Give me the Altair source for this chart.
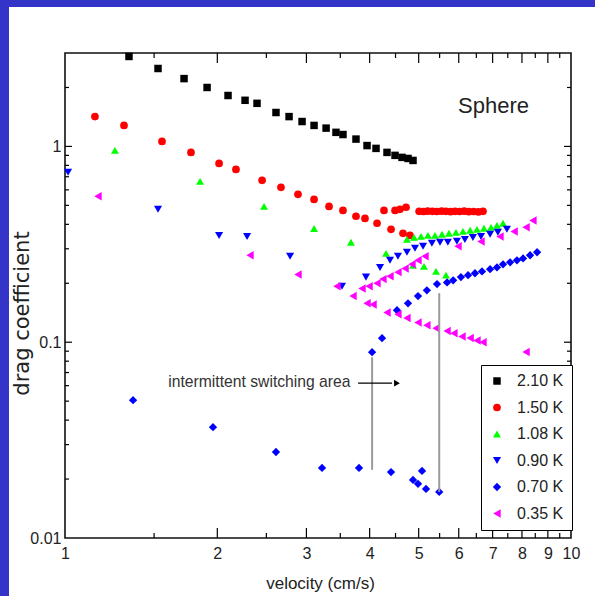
import altair as alt
import pandas as pd

# ---- series -------------------------------------------------------------
SERIES = ["2.10 K", "1.50 K", "1.08 K", "0.90 K", "0.70 K", "0.35 K"]
COLORS = ["#000000", "#ff0000", "#00ff00", "#0000ff", "#0000ff", "#ff00ff"]
SHAPES = ["square", "circle", "triangle-up", "triangle-down", "diamond", "triangle-left"]
SIZES = [56, 72, 95, 95, 85, 95]

v_210 = [1.338, 1.527, 1.719, 1.909, 2.100, 2.269, 2.396, 2.612, 2.772, 2.941, 3.106,
         3.281, 3.432, 3.543, 3.759, 3.953, 4.118, 4.329, 4.490, 4.635, 4.763, 4.873]
cd_210 = [2.88, 2.50, 2.22, 2.00, 1.82, 1.72, 1.66, 1.49, 1.42, 1.34, 1.28,
          1.24, 1.18, 1.15, 1.09, 1.01, 0.977, 0.932, 0.900, 0.879, 0.868, 0.848]

v_150 = [1.146, 1.308, 1.555, 1.774, 2.016, 2.177, 2.452, 2.672, 2.887, 3.106, 3.325,
         3.543, 3.759, 3.916, 4.137, 4.409, 4.656, 4.806,
         4.27, 4.49, 4.59, 4.72, 5.01, 5.11, 5.21, 5.32, 5.43, 5.55, 5.66, 5.78,
         5.90, 6.02, 6.15, 6.28, 6.42, 6.56, 6.70]
cd_150 = [1.42, 1.28, 1.06, 0.932, 0.819, 0.763, 0.671, 0.618, 0.569, 0.536, 0.494,
          0.471, 0.440, 0.429, 0.405, 0.377, 0.360, 0.351,
          0.471, 0.471, 0.477, 0.489, 0.466, 0.465, 0.467, 0.466, 0.465, 0.467, 0.466,
          0.464, 0.466, 0.465, 0.467, 0.464, 0.465, 0.463, 0.466]

v_108 = [1.255, 1.849, 2.474, 3.106, 3.674, 4.309, 4.873, 5.123, 5.411, 5.662,
         4.74, 4.895, 5.053, 5.216, 5.384, 5.559, 5.739, 5.925, 6.116, 6.32, 6.52,
         6.73, 6.95, 7.14, 7.34]
cd_108 = [0.954, 0.663, 0.494, 0.381, 0.324, 0.284, 0.247, 0.244, 0.230, 0.220,
          0.335, 0.343, 0.347, 0.351, 0.351, 0.356, 0.360, 0.364, 0.368, 0.373, 0.377,
          0.382, 0.386, 0.395, 0.405]

v_090 = [1.014, 1.527, 2.016, 2.29, 2.785, 3.527,
         3.934, 4.194, 4.388, 4.55, 4.74, 4.917, 5.10, 5.31, 5.51, 5.71, 5.95, 6.17,
         6.40, 6.64, 6.92, 7.17, 7.47]
cd_090 = [0.737, 0.477, 0.351, 0.347, 0.275, 0.193,
          0.215, 0.241, 0.262, 0.275, 0.288, 0.302, 0.309, 0.320, 0.324, 0.324, 0.328,
          0.335, 0.343, 0.347, 0.356, 0.364, 0.377]

v_070 = [1.363, 1.961, 2.612, 3.221, 3.811, 4.409, 4.873, 4.985, 5.077, 5.17, 5.49,
         4.045, 4.232, 4.53, 4.763, 4.985, 5.19, 5.435,
         5.69, 5.85, 6.06, 6.26, 6.46, 6.67, 6.92, 7.14, 7.34, 7.58, 7.82, 8.04, 8.30, 8.57]
cd_070 = [0.0506, 0.0368, 0.0275, 0.0228, 0.0228, 0.0217, 0.0198, 0.0189, 0.0220, 0.0178, 0.0172,
          0.0889, 0.1048, 0.1456, 0.158, 0.172, 0.184, 0.198,
          0.202, 0.207, 0.215, 0.220, 0.225, 0.230, 0.236, 0.241, 0.250, 0.256, 0.262,
          0.268, 0.278, 0.288]

v_035 = [1.162, 2.321, 2.887, 3.447,
         3.709, 3.953, 4.063, 4.329, 4.55, 4.74, 4.985, 5.19, 5.411, 5.69, 5.87, 6.09,
         6.32, 6.52, 6.70, 8.15,
         3.864, 3.99, 4.137, 4.25, 4.388, 4.55, 4.70, 4.85, 4.985, 5.146,
         5.98, 6.64, 7.24, 7.72, 8.15, 8.41]
cd_035 = [0.556, 0.278, 0.222, 0.193,
          0.172, 0.158, 0.156, 0.142, 0.139, 0.133, 0.126, 0.122, 0.118, 0.114, 0.111,
          0.107, 0.105, 0.102, 0.100, 0.089,
          0.188, 0.193, 0.200, 0.210, 0.217, 0.228, 0.238, 0.250, 0.262, 0.275,
          0.309, 0.327, 0.347, 0.368, 0.386, 0.419]

ALL_V = [v_210, v_150, v_108, v_090, v_070, v_035]
ALL_CD = [cd_210, cd_150, cd_108, cd_090, cd_070, cd_035]

# switching-area guide lines and annotation
guide_v = [4.045, 5.49]
guide_lo = [0.0223, 0.0172]
guide_hi = [0.0838, 0.178]
note_text = "intermittent switching area"
note_v, note_cd = 1.6, 0.0625
arrow_v, arrow_v2, arrow_cd, arrow_head_v = 3.795, 4.43, 0.0618, 4.53
title_text = "Sphere"
title_v, title_cd = 5.98, 1.6

# axis ticks (drawn inward on all four sides)
x_major = [2, 3, 4, 5, 6, 7, 8, 9]
x_minor = [1.5, 2.5, 3.5, 4.5, 5.5, 6.5, 7.5, 8.5, 9.5]
y_major = [0.1, 1]
y_minor = [0.02, 0.03, 0.04, 0.05, 0.06, 0.07, 0.08, 0.09,
           0.2, 0.3, 0.4, 0.5, 0.6, 0.7, 0.8, 0.9, 2]
x_labels = [1, 2, 3, 4, 5, 6, 7, 8, 9, 10]
y_labels = [0.01, 0.1, 1]

# ---- layout -------------------------------------------------------------
W, H = 506, 485
PAD = {"left": 65, "top": 53, "right": 24, "bottom": 58}
SANS = "Liberation Sans, Arial, sans-serif"
BLUE = "#3434c9"
INK = "#222222"

rows = []
for name, vs, cds in zip(SERIES, ALL_V, ALL_CD):
    for v, cd in zip(vs, cds):
        rows.append({"series": name, "v": v, "cd": cd})
points_df = pd.DataFrame(rows)

xs = alt.Scale(type="log", domain=[1, 10], nice=False)
ys = alt.Scale(type="log", domain=[0.01, 3], nice=False)

x_axis = alt.Axis(
    values=x_labels, format="~g", grid=False, domain=False, ticks=False,
    labelFlush=False, labelOverlap=False,
    labelFont=SANS, labelFontSize=16, labelColor=INK, labelPadding=7,
    title="velocity (cm/s)", titleFont=SANS, titleFontSize=17,
    titleFontWeight="normal", titleColor=INK, titleX=255, titleY=45,
    titleAlign="center", titleBaseline="middle")
y_axis = alt.Axis(
    values=y_labels, format="~g", grid=False, domain=False, ticks=False,
    labelFlush=False, labelOverlap=False,
    labelFont=SANS, labelFontSize=16, labelColor=INK, labelPadding=4,
    title="drag coefficient", titleFont="DejaVu Sans", titleFontSize=21,
    titleFontWeight="normal", titleColor=INK, titleX=-43, titleY=260,
    titleAngle=270, titleAlign="center", titleBaseline="middle")

X = alt.X("v:Q", scale=xs, axis=x_axis)
Y = alt.Y("cd:Q", scale=ys, axis=y_axis)

legend = alt.Legend(
    orient="none", legendX=416, legendY=312, title=None,
    strokeColor="#000000", fillColor="#ffffff", padding=8,
    symbolSize=56, symbolStrokeWidth=0, labelFont=SANS, labelFontSize=16,
    labelColor=INK, labelOffset=12, rowPadding=10.5, labelLimit=200,
)

points = alt.Chart(points_df).mark_point(filled=True, opacity=1, strokeWidth=0).encode(
    x=X, y=Y,
    color=alt.Color("series:N", scale=alt.Scale(domain=SERIES, range=COLORS), legend=legend),
    shape=alt.Shape("series:N", scale=alt.Scale(domain=SERIES, range=SHAPES), legend=legend),
    size=alt.Size("series:N", scale=alt.Scale(domain=SERIES, range=SIZES), legend=None),
)

guides = alt.Chart(pd.DataFrame({"v": guide_v, "cd": guide_lo, "cd2": guide_hi})).mark_rule(
    color="#9a9a9a", strokeWidth=2
).encode(x=X, y=Y, y2="cd2:Q")

arrow_line = alt.Chart(pd.DataFrame({"v": [arrow_v], "v2": [arrow_v2], "cd": [arrow_cd]})).mark_rule(
    color="#000000", strokeWidth=1.3
).encode(x=X, x2="v2:Q", y=Y)

arrow_head = alt.Chart(pd.DataFrame({"v": [arrow_head_v], "cd": [arrow_cd]})).mark_point(
    shape="triangle-right", filled=True, color="#000000", size=45, opacity=1, strokeWidth=0
).encode(x=X, y=Y)

note = alt.Chart(pd.DataFrame({"v": [note_v], "cd": [note_cd], "t": [note_text]})).mark_text(
    align="left", baseline="middle", font=SANS, fontSize=15.7, color="#333333"
).encode(x=X, y=Y, text="t:N")

sphere = alt.Chart(pd.DataFrame({"v": [title_v], "cd": [title_cd], "t": [title_text]})).mark_text(
    align="left", baseline="middle", font=SANS, fontSize=22, color=INK
).encode(x=X, y=Y, text="t:N")


def x_ticks(values, length):
    df = pd.DataFrame({"v": values})
    bottom = alt.Chart(df).mark_rule(color="#000000", strokeWidth=1.2).encode(
        x=X, y=alt.value(H), y2=alt.value(H - length))
    top = alt.Chart(df).mark_rule(color="#000000", strokeWidth=1.2).encode(
        x=X, y=alt.value(0), y2=alt.value(length))
    return [bottom, top]


def y_ticks(values, length):
    df = pd.DataFrame({"cd": values})
    left = alt.Chart(df).mark_rule(color="#000000", strokeWidth=1.2).encode(
        y=Y, x=alt.value(0), x2=alt.value(length))
    right = alt.Chart(df).mark_rule(color="#000000", strokeWidth=1.2).encode(
        y=Y, x=alt.value(W), x2=alt.value(W - length))
    return [left, right]


tick_layers = (x_ticks(x_major, 10) + x_ticks(x_minor, 5)
               + y_ticks(y_major, 7) + y_ticks(y_minor, 4))

# blue page border along the left and top edges
frame_df = pd.DataFrame({"k": [0]})
left_strip = alt.Chart(frame_df).mark_rect(color=BLUE).encode(
    x=alt.value(-PAD["left"]), x2=alt.value(-PAD["left"] + 9),
    y=alt.value(-PAD["top"]), y2=alt.value(H + PAD["bottom"]))
top_strip = alt.Chart(frame_df).mark_rect(color=BLUE).encode(
    x=alt.value(-PAD["left"]), x2=alt.value(W + PAD["right"]),
    y=alt.value(-PAD["top"]), y2=alt.value(-PAD["top"] + 7))

chart = alt.layer(
    points, guides, arrow_line, arrow_head, note, sphere, *tick_layers, left_strip, top_strip
).properties(
    width=W, height=H,
    autosize=alt.AutoSizeParams(type="none"),
    padding=PAD,
    background="#ffffff",
).configure_view(
    stroke="#111111", strokeWidth=1.6
)

chart.save("out.html", embed_options={"renderer": "svg", "actions": False})
